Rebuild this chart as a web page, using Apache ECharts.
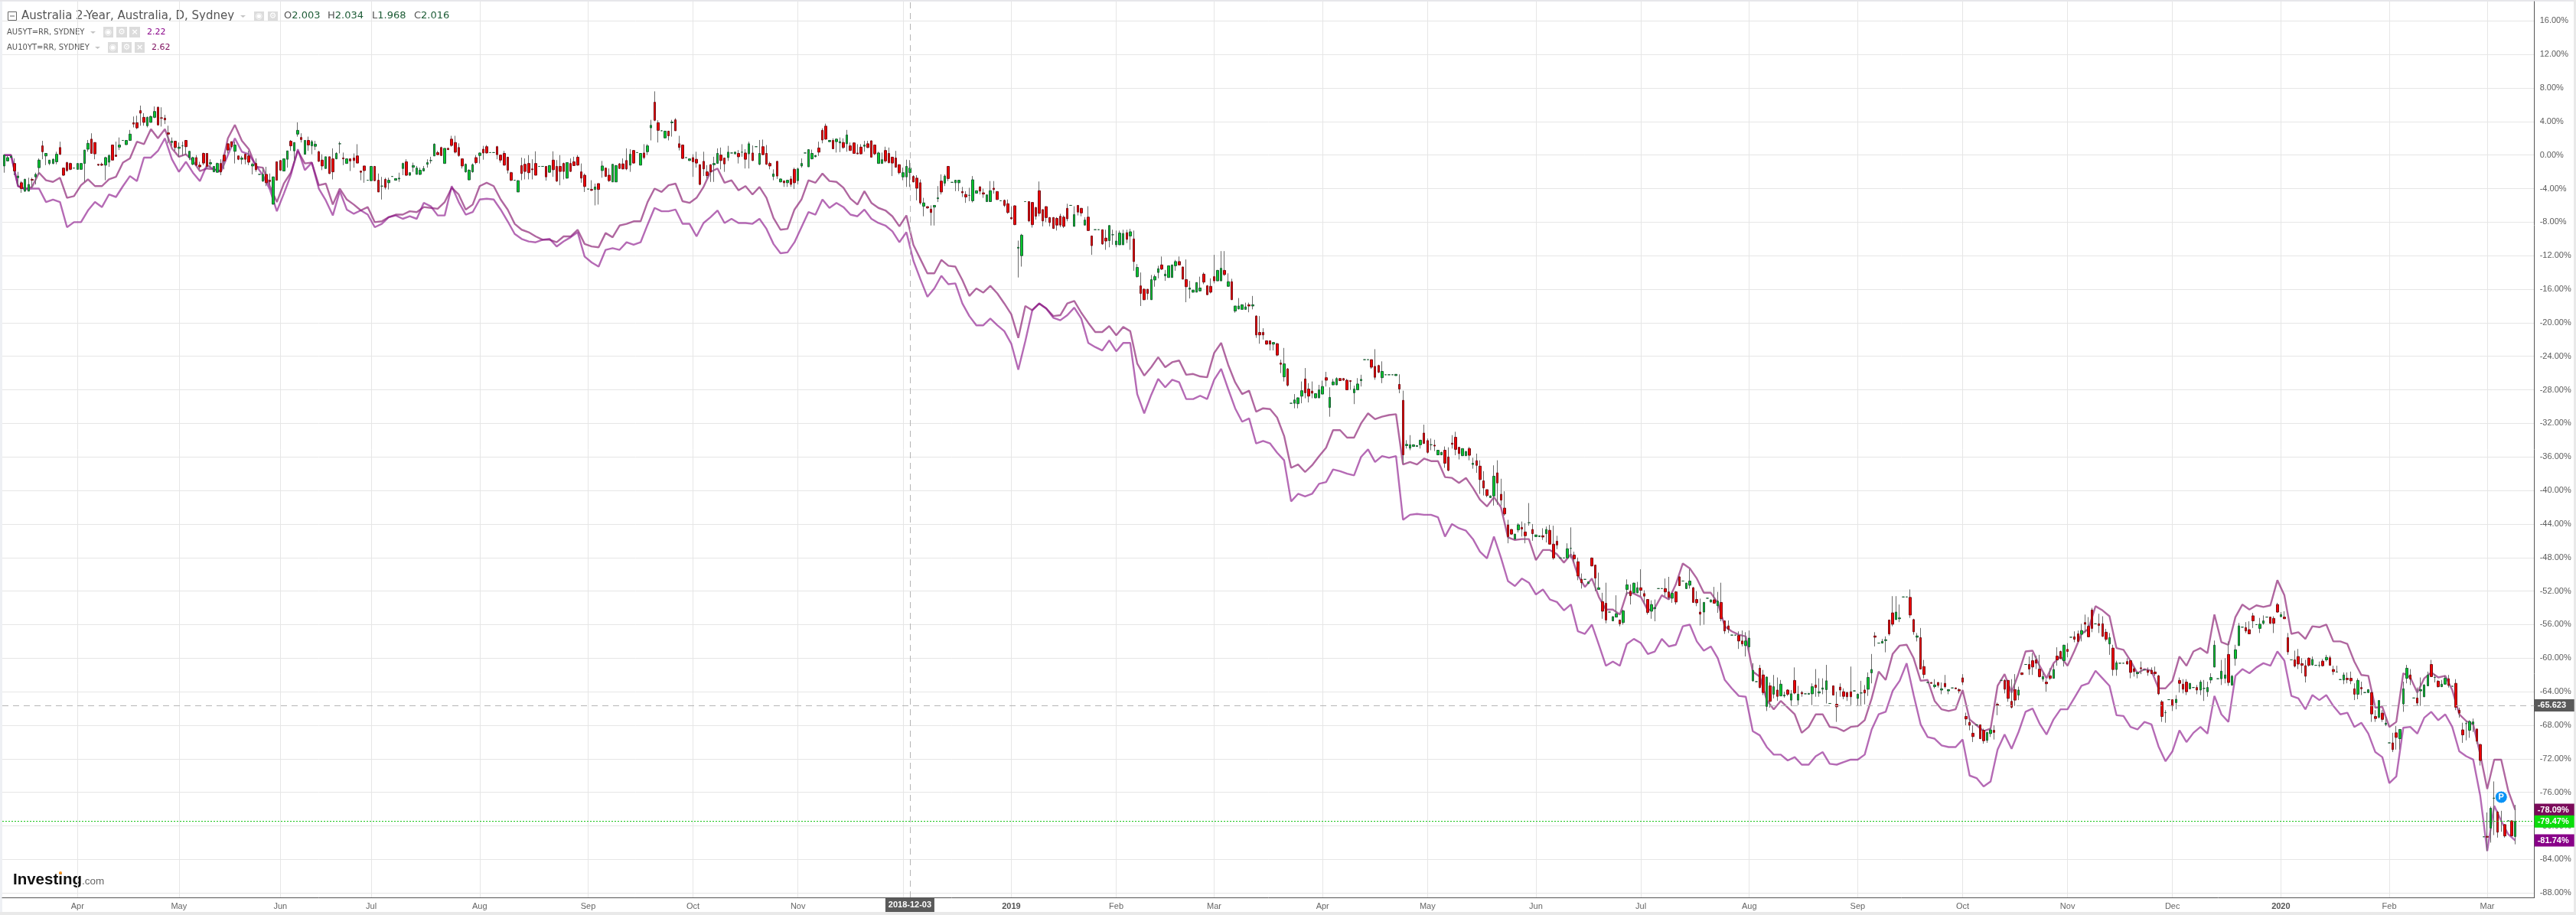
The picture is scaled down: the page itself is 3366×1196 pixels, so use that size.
<!DOCTYPE html>
<html>
<head>
<meta charset="utf-8">
<title>Australia 2-Year</title>
<style>
  html, body { margin: 0; padding: 0; background: #fff; }
  #chart { width: 3366px; height: 1196px; }
</style>
<script src="https://cdn.jsdelivr.net/npm/echarts@6/dist/echarts.min.js"></script>
</head>
<body>
<div id="chart"></div>
<script>
// daily candles as % change: open, close, low, high
const ohlc = [
[-1.3,0,-2.1,0],[-.7,-.3,-.7,-.1],[-.3,-.15,-.3,0],[-1,-1.9,-2.4,-.4],[-2.7,-2.5,-3.6,-2],[-3.3,-4,-4.5,-3.1],[-4.3,-2.9,-4.4,-2.8],[-4.3,-3.5,-4.3,-2.7],[-2.9,-3,-3.9,-2.7],[-2.6,-2.3,-3.5,-2.1],
[-1.5,-.6,-2.3,-.4],[1.1,.4,-.5,1.7],[-.1,.2,-1.2,.2],[-1,-.6,-1.2,-.6],[-1,-.5,-1.1,-.4],[-.8,.1,-1.1,.4],[.9,.1,0,1.6],[-1.55,-2.4,-2.5,-1.5],[-.9,-1.85,-2,-.8],[-1,-1.7,-1.8,-.9],
[-1.55,-1.55,-1.55,-1.55],[-1.7,-1,-1.7,-1],[-1.7,-1,-1.7,-1],[-1,.6,-3.2,.6],[.7,1.4,.4,1.8],[1.9,.2,.2,2.6],[1.5,.15,-.5,1.5],[-1.1,-1.2,-1.3,-1.1],[-1.1,-1.2,-1.3,-.9],[-1.2,-.3,-3,-.2],
[-.85,-.05,-1.4,.1],[1.2,-.6,-.6,1.2],[0,-.15,-.2,1.6],[.95,1.2,.6,2.1],[1.75,1.75,1.75,1.75],[1.25,1.75,1.2,1.8],[1.75,2.5,1.7,3],[3.85,3.7,3.3,4.6],[3.85,3.25,3.1,4.7],[5.3,5,3.5,5.9],
[4.5,3.9,3.5,5],[3.5,4.5,3.3,4.6],[3.9,4.6,3.9,4.7],[4.5,5.2,4.4,5.8],[5.7,3.6,3.5,5.8],[4.45,4.4,3.4,5.7],[4.4,4.2,3.7,4.8],[2.65,2.5,1.4,3.5],[1.5,1.65,1.1,2.1],[1.65,.9,.5,1.7],
[.8,.95,-.2,1.5],[1.1,1.1,-.1,1.6],[1.75,1,0,1.8],[-.3,.45,-.6,.45],[-1.1,-.3,-1.2,-.2],[-.3,-1.2,-1.3,0],[-1.2,-1.4,-1.7,-.8],[.2,-.95,-1.2,.3],[.2,-1.35,-1.6,.2],[-1.05,-.9,-1.5,-.5],
[-2,-1.35,-2,-1.3],[-2.05,-1,-2.1,-.9],[-1,-2,-2.4,-.5],[0,-.7,-1.7,.1],[1.35,.6,.2,1.4],[1.6,1,.9,1.6],[.45,1.2,-1,1.6],[-.1,-.5,-.6,-.1],[-.5,-.35,-1.1,-.1],[.1,-.5,-1.1,.2],
[-.1,-.85,-1.2,.5],[-1.3,-1.1,-2.3,-.9],[-1,-1.75,-2,-.4],[-2.3,-2.3,-2.3,-2.3],[-3.1,-2.3,-3.2,-1.5],[-2.3,-3.3,-3.7,-1.4],[-3,-3.15,-3.6,-2.2],[-5.85,-2.6,-5.9,-2.6],[-.8,-3,-3,-.8],[-.65,-1.8,-1.9,-.6],
[-1.9,-.45,-1.9,-.45],[-.5,.5,-1.5,.5],[1.65,1.1,.5,1.8],[.5,1.5,-.8,1.5],[2.5,2.95,2.2,3.9],[2.1,1.85,1.5,2.6],[.1,1.75,.1,1.8],[1.75,1.2,.5,2.2],[1.1,1.6,.1,1.8],[1.05,1.3,.6,1.7],
[.4,-.75,-.8,.5],[-.6,-1.3,-1.8,.1],[-1.6,-.2,-1.6,-.2],[-.2,-2.2,-2.25,-.2],[-.45,-2,-2.9,.8],[-.45,.2,-.5,.35],[1.35,1.35,.2,1.6],[-.35,-.45,-1.2,.3],[-1,-.45,-1,-.4],[-.45,-.7,-1.9,-.4],
[-.35,-.65,-1.5,.2],[-.1,-.95,-.95,1.3],[-1.9,-2.05,-3,-1.9],[-1.3,-1.85,-3.3,-1.3],[-3,-3,-3,-3],[-3.05,-1.35,-3.1,-1.3],[-1.35,-3.05,-3.1,-1.3],[-3,-4.4,-4.4,-2.2],[-3.7,-3.7,-5.3,-2.6],[-2.9,-3.85,-4.1,-2.7],
[-3.3,-3,-4.1,-2.7],[-2.55,-2.55,-2.55,-2.55],[-3,-2.8,-3,-2.8],[-2.85,-2.75,-3.2,-2.1],[-1.6,-1,-2.4,-.9],[-.8,-2.4,-2.5,-.5],[-2.4,-2.1,-2.5,-2.1],[-1.45,-1.25,-2,-.9],[-2.3,-1.55,-2.3,-1.3],[-2.3,-1.8,-2.4,-1.5],
[-1.9,-1.6,-1.9,-1.3],[-1.1,-.9,-1.5,-.5],[-.65,-.65,-1,-.2],[-.1,1.3,-.1,1.4],[.3,.05,0,.5],[.9,-.05,-.1,1],[-1,.8,-1,.8],[.8,.65,.6,.9],[1.9,1.15,1,2.3],[1.5,.35,.2,2.3],
[.9,-.05,-.2,1.4],[-.45,-1.3,-1.6,-.4],[-2,-1.1,-2.1,-1],[-2.95,-1.8,-3,-1.7],[-2,-1.15,-2.1,-1],[-.3,-.9,-1.1,0],[-.05,.25,-1,.3],[.7,.25,-.55,1.1],[1,.25,.2,1.2],[.3,.3,.3,.3],
[.3,.3,.3,.3],[1,.05,-.5,1.1],[0,-.6,-.9,0],[.2,-1.2,-1.25,.5],[-.25,-1.8,-2.2,-.2],[-2.1,-3,-3.1,-2],[-3,-3,-3,-3],[-4.4,-3.05,-4.4,-3],[-1.25,-2.2,-3,-.3],[-1.1,-1.95,-2.9,-.4],
[-1,-2.1,-2.9,0],[-1.65,-1.75,-2.9,-.5],[-1,-2.4,-2.4,.45],[-1.35,-1.35,-1.35,-1.35],[-1.35,-1.35,-1.35,-1.35],[-1.35,-2.6,-3.05,-1.3],[-2.05,-1.25,-2.1,-1.2],[-.6,-1.75,-2.6,.45],[-1.35,-3.1,-3.2,-.6],[-1.35,-1.95,-3.6,0],
[-1,-1.95,-2.9,-.9],[-2.75,-.9,-2.8,-.9],[-1,-1.95,-2,-.4],[-.8,-1.25,-1.3,-.2],[-.25,-1.2,-1.25,0],[-2,-2.75,-3.3,-1],[-2.4,-3.75,-4.4,-2.2],[-4.05,-4.05,-4.05,-4.05],[-4.1,-4.2,-4.3,-3],[-4.1,-3.8,-6,-3.4],
[-3.4,-4.1,-5.9,-3.4],[-1.85,-1.3,-2.7,-.7],[-1.55,-2.55,-2.6,-1.5],[-2.4,-3.05,-3.2,-1.6],[-3.2,-1.1,-3.2,-1.1],[-3.2,-1.25,-3.2,-1.2],[-1.05,-1.6,-1.6,-.95],[-1.05,-1.65,-1.7,-.4],[-.65,-1.65,-1.8,.8],[-1.2,.1,-2,.7],
[.55,-.95,-1,.6],[.3,.3,.3,.3],[-1.2,.2,-1.2,.2],[.25,-.3,-.5,1.3],[.4,1.1,0,1.3],[3.25,3.55,1.75,4.2],[6.3,4.15,4.05,7.6],[3.85,2.95,1.5,4.15],[2.9,2.9,2.9,2.9],[2.05,2.85,2,2.9],
[2.85,2.3,1.75,2.9],[3.85,3.95,2.2,4.2],[4.2,2.9,2.9,4.4],[1.35,.9,.55,2.3],[1.2,-.4,-.45,1.2],[-.3,-.3,-.3,-.3],[-.65,-.45,-.7,-.4],[-.3,-.8,-2.6,.1],[-.5,-.95,-1.5,.4],[-1.15,-3.5,-3.6,-1.1],
[-.75,-1.65,-2.5,.4],[-2,-2.45,-2.8,-1.2],[-1.15,-2,-3.2,-1.1],[-1.15,-1,-3.2,-.2],[-1,.2,-1,.8],[0,-.65,-1.7,.9],[-.35,-1.05,-2,-.3],[-.3,.35,-.7,1.1],[.25,.25,.25,.25],[.15,.35,.1,.4],
[.2,-.2,-1,.6],[.35,.35,-.2,1.3],[.25,-.5,-1.6,.7],[.15,1.35,-1.6,1.6],[.25,-.65,-.7,1.15],[1,1,1,1],[-1.1,.2,-1.2,1.8],[1,.05,0,1.85],[.2,-1.1,-1.15,1.2],[-1,-1.3,-1.7,-.8],
[-2.55,-2.25,-3,-1.7],[-.75,-2.5,-2.85,-.7],[-3.2,-2.85,-3.25,-2.8],[-3.1,-3.3,-3.8,-3],[-3.3,-3,-3.8,-3],[-2.85,-3.5,-3.8,-2.5],[-1.7,-3.3,-4.05,-1.5],[-3.05,-1.65,-3.5,-1.5],[-1.3,-1,-1.5,-.4],[.25,.25,.25,.25],
[-1.4,.65,-1.4,.7],[-.45,.2,-.5,.65],[-.2,-.05,-.25,0],[.85,.35,-.1,1.6],[2.95,1.8,1.4,3.2],[3.45,1.9,1.85,3.75],[1.6,1.75,1.55,1.8],[1.75,.75,.7,2],[1.6,1.9,.3,2],[1.45,1.6,.35,2.1],
[1.5,.9,.75,2],[1.35,2.4,.4,3],[1.1,.55,.5,1.5],[1.45,.2,.15,1.5],[.25,.15,.1,1.3],[.95,.15,.1,1.3],[1.05,1.2,.4,1.7],[1.35,.9,.85,1.7],[1.7,-.25,-.3,1.75],[1.2,.15,0,1.25],
[-1,.25,-1,.4],[-1,-.55,-1,.3],[.55,-.7,-.9,1],[.2,-.9,-1,.9],[-.25,-.95,-2.5,-.2],[-.35,-1.45,-1.5,.5],[-1.15,-2.1,-2.3,-1.1],[-2.6,-2.1,-3,-1.5],[-2.6,-1.35,-3.8,-.55],[-2.1,-1.55,-3.8,-.6],
[-2.55,-3.2,-3.25,-2.4],[-2.75,-3.95,-5.4,-2.4],
// Dec 2018 on
[-3.3,-5.7,-5.9,-2.9],[-6.1,-5.7,-7.3,-5.1],[-6.15,-6.3,-6.4,-6.1],[-6.45,-6.85,-8.4,-6],[-6.2,-6,-8.4,-6],[-5.2,-5.1,-5.6,-3.7],[-3.1,-4.4,-4.7,-2.3],[-3.35,-2.5,-3.7,-2.3],[-1.35,-2.8,-3.1,-1.3],[-3.25,-3.25,-3.25,-3.25],
[-3.3,-3,-4.3,-3],[-3.3,-3,-4.3,-3],[-4.35,-4.5,-5,-3.8],[-4.7,-5,-5.7,-4.3],[-4.8,-4.8,-5.5,-3.9],[-5.45,-2.95,-5.65,-2.5],[-4.55,-4.25,-4.6,-4.2],[-3.8,-4.3,-4.7,-3.7],[-4.5,-4.65,-5.1,-4],[-5.55,-4.75,-5.6,-4.7],
[-5.55,-4.25,-5.55,-3.1],[-3.95,-4.1,-4.6,-3.1],[-4.35,-5.3,-5.35,-4.3],[-5.45,-5.45,-5.45,-5.45],[-5.4,-6,-6.2,-5.3],[-5.8,-6.85,-7,-5.3],[-7.45,-7.6,-7.7,-6.1],[-6.05,-8.3,-8.35,-6],[-11.1,-11,-14.6,-10.2],[-12,-9.55,-13.3,-9.4],
[-5.55,-5.55,-5.55,-5.55],[-5.55,-7.85,-8,-5.5],[-5.65,-8.3,-8.65,-5.6],[-6.25,-7.3,-7.7,-6.2],[-4.25,-6.95,-7.3,-3.15],[-6.5,-7.85,-8.5,-6.5],[-6.15,-7.45,-8,-6.1],[-7.45,-8.05,-8.5,-7.4],[-7.45,-8.75,-8.8,-7.4],[-7.55,-8.35,-9,-7.4],
[-7.3,-8.35,-8.6,-7],[-7.4,-8.5,-8.7,-7.2],[-6.35,-7.6,-7.9,-5.8],[-6,-6,-6,-6],[-8.5,-7.1,-8.5,-6.1],[-6,-6.8,-7.2,-6],[-6.35,-6.9,-7.3,-6.3],[-8.35,-7.75,-8.4,-7.4],[-7.4,-9,-9,-6.1],[-9.65,-10.8,-11.9,-9.6],
[-8.9,-8.9,-8.9,-8.9],[-8.9,-8.9,-8.9,-8.9],[-8.9,-10.6,-10.7,-8.9],[-9.9,-10.25,-11.3,-8.9],[-10.2,-8.4,-11,-8.4],[-9.5,-9.5,-10.7,-8.9],[-10.7,-10.25,-11,-9],[-10.7,-9.3,-10.7,-9],[-10.7,-9.35,-10.7,-8.9],[-9.25,-10.05,-10.5,-8.9],
[-9.65,-9.15,-11.3,-8.8],[-10,-12.7,-13.8,-9],[-14.5,-13.4,-14.6,-13],[-15.6,-16.5,-18,-14],[-16,-17.25,-17.3,-15.9],[-16,-16.5,-17.25,-16],[-17.25,-14.85,-17.25,-14.3],[-14.9,-14.5,-15.7,-14.25],[-14,-13.55,-14.7,-13.2],[-13.1,-13.6,-13.7,-12.1],
[-14.4,-14.2,-15,-13.7],[-14.6,-13.2,-14.6,-13.2],[-14.6,-13.1,-14.6,-13.1],[-13.2,-12.7,-13.8,-12.5],[-12.7,-13.1,-13.15,-12.1],[-13.35,-14.8,-14.8,-13.3],[-14.85,-15.7,-17.55,-12.45],[-16,-15.85,-17.1,-15],[-16.35,-16.1,-16.4,-16.1],[-16.35,-15.2,-16.35,-15.2],
[-16.2,-15.85,-16.25,-14.5],[-14.2,-15.15,-15.4,-14],[-15.6,-16.65,-16.7,-15.5],[-15.65,-16.35,-16.5,-14.7],[-14.5,-15,-15.3,-11.9],[-15,-13.75,-15,-13.7],[-15,-13.5,-15,-11.45],[-13.75,-14.25,-14.4,-11.45],[-15.65,-15.1,-15.7,-14.1],[-15.1,-17.25,-17.25,-14.75],
[-18.6,-18,-18.8,-18],[-18.35,-18,-18.4,-17.05],[-18.4,-17.85,-18.4,-17.8],[-18.4,-18.1,-18.4,-17.6],[-17.85,-18,-18.75,-17.6],[-18,-17.85,-18.4,-16.8],[-19.2,-21.45,-21.8,-19.1],[-21.15,-21.45,-22.5,-19.2],[-21.15,-21.45,-22,-20.65],[-22.15,-22.55,-22.6,-22.1],
[-22.15,-22.55,-23.3,-22.1],[-22.55,-22.35,-23.3,-22.3],[-22.5,-23.85,-24,-22.4],[-24.8,-24.95,-26,-24.4],[-26.45,-24.9,-27,-23],[-25.5,-27.45,-27.6,-25.4],[-29.6,-29.6,-29.6,-29.6],[-29.6,-29.2,-30.2,-28.5],[-29.65,-28.95,-30.2,-28.9],[-28.75,-28.1,-29.6,-27],
[-26.7,-28.35,-29,-25.4],[-27.9,-28.75,-29.5,-27.2],[-28.15,-28.4,-29,-27],[-28.95,-28.45,-29,-28.4],[-28.95,-28,-29,-27.4],[-28.5,-27.6,-28.5,-26.9],[-26.55,-26.85,-27.6,-25.85],[-30.1,-28.9,-31.2,-27.7],[-27.4,-27.05,-27.45,-26.7],[-27.4,-26.65,-27.45,-26.5],
[-26.65,-26.9,-26.95,-26.6],[-26.65,-26.85,-26.9,-26.6],[-26.85,-28,-28,-26.7],[-26.9,-27,-28,-26.9],[-28.35,-27.9,-29.7,-27.5],[-28,-27.3,-28,-26.6],[-26.9,-26.75,-27.6,-26.2],[-24.4,-24.4,-24.4,-24.4],[-24.4,-24.4,-24.4,-24.4],[-24.4,-25.3,-25.5,-24.4],
[-25.2,-26.5,-26.8,-23.15],[-25.1,-25.9,-26,-25],
// May 2019 on
[-26.55,-25.8,-27.2,-24.6],[-26.2,-26.2,-26.2,-26.2],[-26.2,-26.2,-26.2,-26.2],[-26.2,-26.2,-26.2,-26.2],[-26.3,-26.15,-26.3,-26.15],[-27.35,-27.9,-28.4,-26.15],[-29.25,-35.75,-36.8,-28.1],[-34.65,-34.5,-35,-34],[-34.95,-34.55,-35.2,-33.4],[-34.75,-34.55,-34.8,-34.5],
[-34.75,-34.65,-34.8,-34.6],[-34.55,-34,-35,-34],[-33.15,-34.4,-34.4,-32.15],[-34.05,-35.45,-35.6,-33.8],[-34.55,-34.55,-35.2,-33.8],[-34.6,-34.7,-35.3,-33.95],[-35.75,-35.2,-35.8,-35.2],[-35.75,-35.45,-35.8,-35.4],[-35.2,-36.75,-37.3,-34.75],[-36,-37.6,-37.7,-34.85],
[-34.35,-34.5,-35,-33.4],[-33.65,-35.1,-35.8,-33],[-34.85,-35.6,-36.3,-34.8],[-35.85,-35,-35.9,-35],[-35.85,-35.35,-35.9,-35.3],[-35,-35.8,-36.4,-34.8],[-36.9,-36.75,-37.4,-36.1],[-36.45,-37,-37.9,-35.6],[-37.1,-38.7,-40.4,-36.4],[-38.85,-39.7,-40.6,-37.7],
[-39.9,-40.6,-40.8,-39.9],[-40.85,-40.65,-40.9,-40.6],[-40.65,-38.3,-41.8,-37],[-37.9,-39.1,-41.7,-36.4],[-40.45,-41.15,-41.8,-38.6],[-42.1,-42.8,-43,-40.1],[-44.1,-45.5,-46.3,-43.5],[-44.65,-45.2,-45.3,-44.6],[-45.8,-45.2,-45.85,-45.2],[-44.7,-44.1,-45,-43.9],
[-44.4,-44.6,-45.5,-43.7],[-44.95,-45.4,-46.3,-43.9],[-43.85,-43.85,-44.2,-41.5],[-44.65,-45.15,-46,-44],[-45.5,-45.3,-45.55,-45.3],[-45.5,-45.4,-45.55,-45.4],[-45.4,-45.55,-45.9,-44.5],[-45.15,-44.65,-46.2,-44.3],[-44.75,-46.4,-46.4,-44.1],[-46.4,-48.05,-48.25,-44.2],
[-46.05,-46.5,-47,-45.4],[-48.05,-48.05,-48.05,-48.05],[-48.05,-48.05,-48.05,-48.05],[-48.05,-46.95,-48.1,-46.3],[-46.9,-46.9,-48.1,-44.4],[-47.7,-48.15,-48.6,-47.3],[-48.5,-50.2,-50.7,-48],[-50.6,-51,-51.7,-49.9],[-50.6,-50.6,-50.6,-50.6],[-51.1,-50.9,-51.15,-50.85],
[-48.05,-49,-49.05,-48],[-48.9,-50.45,-52,-48.9],[-51.8,-51.6,-51.85,-49.8],[-53.25,-54.4,-55.3,-52.2],[-53.45,-55.45,-55.85,-51],[-54.5,-54.5,-54.5,-54.5],[-55.55,-55.05,-55.6,-55],[-55.1,-54.7,-55.1,-52.5],[-55.45,-55.9,-56.2,-55.4],[-55.75,-54.35,-56,-54.2],
[-51.8,-51.25,-52.5,-50.6],[-52,-52.55,-53.6,-51.2],[-52.2,-51.05,-52.2,-51],[-52.2,-51.6,-52.25,-50.9],[-51.6,-51.9,-52.6,-49.4],[-52.3,-52.6,-53.5,-51.9],[-53,-54.55,-54.8,-53],[-54.4,-53.6,-55.3,-53.1],[-54.1,-53.95,-55.6,-53],[-51.7,-51.7,-51.7,-51.7],
[-51.7,-51.7,-51.7,-51.7],[-51.7,-52.1,-52.6,-50.5],[-52.1,-52.75,-53,-50.3],[-52.85,-52.25,-53.4,-52.2],[-52.1,-53.3,-53.6,-52],[-50.3,-51.35,-51.4,-50.25],[-50.8,-50.8,-50.8,-50.8],[-51.7,-51.05,-51.75,-51],[-51.3,-50.8,-51.7,-49.4],[-51.6,-53.35,-53.4,-51.5],
[-53,-53.4,-53.8,-52],[-54.5,-54.75,-56.1,-52.9],[-54.5,-53.35,-56,-53.3],[-52.85,-52.85,-52.85,-52.85],[-53.3,-53.05,-53.35,-53],[-53.05,-53.45,-53.5,-51.5],[-53.75,-53.2,-54.6,-52.1],[-53.35,-55.3,-55.6,-51],[-55.55,-56.75,-57.1,-55.5],[-56.15,-56.55,-57,-55.5],
[-57.25,-57.25,-57.25,-57.25],[-57.25,-57.25,-57.25,-57.25],[-57.3,-57.95,-58.9,-56.8],[-57.95,-58.3,-58.6,-56.7],[-58.5,-57.95,-59.8,-56.9],[-58.65,-57.6,-59.2,-56.7],[-62.7,-61.45,-62.8,-60.6],[-62.8,-62.8,-62.8,-62.8],[-61.2,-63.5,-63.6,-60.8],
// Sep 2019 on
[-62,-64.1,-64.4,-61.4],[-65.75,-62.25,-66.3,-62.2],[-63.3,-65.15,-65.9,-62.9],[-64.3,-63.4,-64.8,-62],[-63.8,-64.55,-65.1,-62.3],[-64.5,-63.1,-64.5,-62.6],[-64.5,-64.4,-64.7,-64],[-63.8,-64.3,-64.5,-63.7],[-65,-64.25,-65.7,-63.8],[-62.65,-64.15,-64.3,-61.1],
[-65,-64.3,-65.6,-63.3],[-64.1,-64.25,-64.6,-63.9],[-64.25,-64.25,-64.25,-64.25],[-64.3,-64.2,-64.3,-64.2],[-64.25,-63.4,-65.6,-63],[-63.2,-63.5,-64.6,-61.3],[-64.15,-64,-64.6,-62.4],[-63.7,-63.55,-64.3,-62.4],[-63.75,-62.7,-65.4,-60.8],[-65.4,-65.4,-65.4,-65.4],
[-63.3,-64.4,-64.45,-63.25],[-65.5,-65.8,-67.6,-64],[-63.45,-63.8,-64.6,-63],[-64,-64.55,-64.9,-63.6],[-64.1,-64.6,-65.1,-64],[-64,-64.6,-65.6,-61],[-63.9,-63.9,-63.9,-63.9],[-64.8,-64.3,-65.7,-64.2],[-64.15,-64.15,-65.6,-62.7],[-63.8,-64.15,-65.5,-63.2],
[-63.7,-62.3,-64.5,-61.7],[-61.75,-61.35,-63,-59.5],[-57.35,-57.5,-58.6,-56.9],[-58.2,-58.2,-58.2,-58.2],[-58.2,-58,-58.25,-57.7],[-57.9,-57.8,-59.3,-57.4],[-55.45,-57.1,-57.3,-55.4],[-54.6,-55.95,-56.2,-52.6],[-55.4,-54.5,-55.4,-52.6],[-55.3,-55.2,-55.7,-53.6],
[-52.7,-52.7,-52.7,-52.7],[-52.7,-52.7,-52.7,-52.7],[-52.75,-54.85,-55.2,-51.8],[-55.4,-56.85,-57.2,-55.3],[-57.5,-57.35,-58,-57],[-57.55,-61.3,-61.3,-56.4],[-61,-61.95,-62.4,-60.2],[-62.9,-62.9,-62.9,-62.9],[-62.9,-63,-63.05,-62.85],[-63.4,-63.2,-63.6,-62.5],
[-62.9,-63.25,-63.5,-62.85],[-63.8,-63.65,-64.3,-62.9],[-63,-63.4,-63.6,-62],[-63.9,-63.75,-64.3,-63.7],[-63.55,-63.55,-63.55,-63.55],[-63.55,-63.65,-63.7,-63.5],[-63.75,-63.9,-64.2,-63.6],[-62.35,-62.85,-63.2,-61.9],[-66.95,-67.25,-68,-66.5],[-67.65,-68,-68.6,-67.2],
[-68.95,-69.35,-70,-68],[-67.95,-67.95,-67.95,-67.95],[-67.95,-69.6,-69.65,-67.9],[-68.6,-69.85,-70.2,-68.4],[-69.8,-68.85,-70.1,-68.8],[-69,-68.55,-69.4,-68.3],[-68.6,-68.85,-69.7,-68],[-65.5,-65.6,-66.8,-65.3],[-62.65,-62.65,-62.65,-62.65],[-62.65,-63.7,-64.2,-62.5],
[-62.65,-64.8,-65.2,-62.6],[-65.15,-65.85,-66,-62.5],[-63.75,-65,-65.7,-61.9],[-64.4,-63.8,-65,-63.4],[-61.75,-61.95,-62,-61.7],[-60.75,-60.75,-60.75,-60.75],[-60.75,-61.3,-62,-59.8],[-60.3,-61.05,-62,-59.4],[-60.2,-60.6,-61.3,-59.7],[-61.3,-62.2,-62.3,-59.6],
[-62.5,-62.2,-62.8,-61.7],[-62.85,-63.05,-64,-62.5],[-62.1,-62.4,-62.6,-61.2],[-62.4,-61.35,-62.4,-60.7],[-59.75,-60.2,-60.9,-58.7],[-59.2,-60.05,-60.1,-59.1],[-60.3,-58.45,-61,-58.4],[-58.95,-59.2,-59.9,-58.2],[-57.5,-57.5,-57.5,-57.5],[-57.45,-57.75,-58.1,-56.8],
[-57.1,-58,-58.1,-56.7],[-57.15,-56.7,-58,-55.9],[-55.75,-55.95,-57,-54.8],[-56.2,-57.45,-57.5,-55.1],[-54.25,-56.45,-56.9,-54],[-55.9,-55.9,-55.9,-55.9],[-55.9,-56.1,-57,-54.7],[-55.9,-57.4,-57.45,-55],[-56.9,-57.75,-58,-56.5],[-58.3,-57.55,-59.6,-57],
[-58.8,-61.35,-62.1,-58.4],[-61.35,-60.55,-62.1,-60.3],[-60.6,-60.6,-60.6,-60.6],[-60.6,-60.6,-60.6,-60.6],[-60.4,-60.7,-60.75,-60],[-60.3,-61.7,-62.4,-60.25],[-61.25,-61.6,-62.2,-61],[-61.85,-61.7,-62.4,-61.6],[-61.15,-61.25,-61.9,-60.4],
// Nov 2019 on
[-61.4,-61.4,-61.4,-61.4],[-61.45,-61.7,-62.1,-61.1],[-61.45,-61.85,-61.9,-61.1],[-61.65,-61.85,-62.1,-61],[-62.1,-64.25,-64.4,-62],[-65.2,-66.95,-67.6,-65],[-66.5,-66.5,-67.7,-66.2],[-64.95,-64.95,-64.95,-64.95],[-64.95,-65.7,-66.3,-64.9],[-65.3,-64.9,-66.1,-64.4],
[-62.65,-63,-64.1,-62.3],[-63.1,-63.7,-64.2,-62.5],[-62.85,-64,-64.4,-62.5],[-63.65,-63,-63.7,-63],[-63.5,-63.5,-63.5,-63.5],[-63.5,-63.8,-64.3,-63.2],[-63.8,-62.85,-64.4,-62.6],[-63.6,-63.6,-65.1,-62.6],[-64,-63.5,-64.6,-62.8],[-62.6,-62.3,-63,-61.8],
[-61.05,-58.45,-61.1,-57.9],[-62.45,-62.45,-62.45,-62.45],[-62.45,-61.55,-63.2,-60.2],[-62.4,-62,-63,-60],[-59.55,-62.9,-63.3,-58],[-63.2,-62.15,-63.3,-62],[-60.05,-59,-60.9,-58.4],[-58.5,-56.15,-58.5,-55.8],[-56.3,-56.3,-56.3,-56.3],[-56.35,-56.75,-57,-55.7],
[-56.6,-57.1,-57.1,-55.6],[-54.95,-55.55,-56.4,-54.6],[-56,-56,-56,-56],[-56.45,-55.95,-57,-55.2],[-55.85,-55.55,-56,-54.9],[-55.1,-55.1,-55.1,-55.1],[-55.1,-55.85,-55.9,-55.05],[-55.25,-55.85,-57,-55],[-53.6,-54.5,-54.6,-53.4],[-55.05,-54.8,-55.1,-54.5],
[-55.1,-55.3,-55.3,-54.4],[-57.55,-59.25,-59.6,-57],[-60.2,-60.2,-60.2,-60.2],[-60.2,-60.95,-61.1,-59.1],[-59.8,-60.7,-61.3,-58.9],[-60.65,-60.85,-61.8,-60],[-60.9,-62.15,-62.9,-60.2],[-60,-60.85,-61,-59.9],[-60.8,-60.15,-60.9,-59.8],[-60.85,-60.85,-60.85,-60.85],
[-60.85,-60.85,-61.1,-60.4],[-60.35,-60.9,-61,-60.1],[-60.2,-59.9,-60.4,-59.6],[-59.95,-60.85,-60.9,-59.7],[-61.35,-61.6,-62,-60.9],[-61.65,-61.65,-61.65,-60.9],[-62.55,-62.55,-62.55,-62.55],[-62.6,-62,-63.1,-61.7],[-62.4,-62.55,-63,-61.7],[-62.4,-62.7,-63.1,-61.6],
[-63.65,-64.3,-65,-63],[-64.3,-62.65,-64.9,-62.4],[-63.5,-63.65,-64.4,-62.8],[-64.1,-64.1,-64.1,-64.1],[-64.1,-63.75,-64.15,-63.7],[-64.1,-66.65,-67.6,-64],[-66.95,-67.2,-67.6,-66.2],[-67.05,-65.05,-67.2,-65],[-66.55,-67.3,-67.6,-66.2],[-67.9,-67.75,-68.1,-67],
[-70.1,-70.1,-70.1,-70.1],[-70.1,-70.9,-71.2,-68.9],[-68.9,-69.45,-70.9,-68.1],[-69.6,-68.5,-70.9,-68.45],[-65.45,-63.65,-66.4,-62.8],[-62.4,-61.2,-63,-60.8],[-62,-62.5,-63.2,-61.3],[-64.75,-64.75,-64.75,-64.75],[-64.75,-65.35,-65.7,-63.5],[-63.9,-63.75,-65.7,-62.3],
[-64.6,-63.2,-64.65,-63.1],[-63.3,-62,-63.3,-61.6],[-60.75,-62.2,-62.25,-60.2],[-62.3,-62.3,-62.9,-61.9],[-62.75,-63.4,-63.5,-62.6],[-63.4,-63.1,-63.45,-62.6],[-63.1,-62.4,-63.15,-62.1],[-62.45,-63.25,-63.5,-62],[-63.35,-63.35,-63.35,-63.35],[-63,-65.85,-66.2,-62.5],
[-66.2,-66.55,-67.1,-65.9],[-68.55,-69.15,-70.1,-67.7],[-67.8,-67.8,-69.8,-67.5],[-68.6,-67.55,-69.5,-67.4],[-67.85,-67.6,-68.8,-67.2],[-68.45,-69.9,-70.2,-68.4],[-70.3,-72.2,-72.8,-70.2],[-81.3,-81.3,-81.3,-81.3],[-81.25,-81.35,-83,-78.4],[-80.25,-77.9,-82,-77.7],
[-76.7,-76.7,-81.1,-74.7],[-78.35,-80.75,-81.4,-78.2],[-79.45,-79.45,-80.7,-78.2],[-79.85,-81.2,-81.4,-79.8],[-79.4,-79.4,-79.4,-79.4],[-79.4,-81.2,-81.25,-79.35],[-81.27,-79.47,-82.2,-77.5]
]

// line values, one reading every lineStep bars
const lineStep = 2
const au10yt = [
0,0,-3.7,-4,-3.8,-2.1,-3,-3.2,-2.7,-5.1,-4.9,-3.6,-2.9,-3.7,-3.7,-2.9,-2.6,-.9,-.4,1.6,1.3,3.1,2,3.1,.8,-.2,.1,-.7,-1.9,-1.6,-1.7,-1.9,2,3.6,1.7,.7,-1.4,-1.5,-3.7,-5.6,-3.4,-2.1,.5,-1,-.9,-3.6,-3.4,-5.9,-4,-5.3,-5.9,-6.6,-6.2,-8,-7.9,-7.4,-7.1,-7.1,-6.7,-6.8,-6.2,-6.3,-6.4,-5.6,-3.9,-4.7,
-6.5,-5.9,-3.7,-3.3,-3.7,-5.3,-6.5,-8.2,-8.9,-9.2,-9.7,-10.1,-10.1,-10.4,-9.7,-9.7,-8.9,-10.6,-10.9,-11,-9.3,-9.8,-8.4,-8.2,-7.9,-7.9,-5.6,-4,-4.4,-3.6,-3.4,-5.5,-5.7,-5.1,-3.8,-2,-1.6,-3.3,-3,-4.2,-3.7,-4.7,-3.8,-5.1,-7.5,-8.9,-8.8,-6.5,-5.3,-3,-3.3,-2.2,-3.1,-3.2,-3.9,-5.2,-5.9,-4.3,-5.7,-6.3,-6.6,-7.3,-8.5,-7.2,-10.7,
-12.4,-14.1,-14.1,-12.5,-13.2,-13.3,-14.9,-16.8,-15.9,-16.4,-15.6,-16.5,-17.7,-19,-21.8,-18,-18.5,-17.7,-18.3,-19.2,-19.1,-17.7,-17.4,-18.8,-20,-21.1,-21.1,-20.4,-21.5,-20.5,-21,-24.85,-26.3,-25.3,-24.1,-25.3,-24.7,-24.5,-26.2,-26.1,-26.4,-26.5,-23.6,-22.4,-25,-27.1,-28.5,-28.1,
-30.6,-30.2,-30.3,-31.3,-33.5,-37.3,-36.9,-37.8,-37,-35.9,-34.9,-32.8,-32.8,-33.7,-33.7,-32,-30.8,-31.5,-31.2,-31,
-30.9,-36.9,-36.6,-36.9,-36.2,-36.5,-36.5,-38.4,-38.5,-39.1,-38.5,-39.7,-41.1,-41.9,-40.8,-42,-45.6,-45.9,-45.8,-45.8,-48.3,-47.1,-47.1,-47.6,-48.6,-47.6,-50.1,-51.5,-50.5,-52.7,-54.2,-54.2,-54.8,-52.2,-52.3,-52.7,-54.3,-54,-52.5,-53,-51.2,-48.7,-49.3,-50.5,-52.2,-52.2,-53.4,-56.2,-56.8,-57.2,-57.4,-61.6,-62.2,
-65,-66.1,-65.1,-65.9,-66.7,-68.9,-68.2,-66.7,-66.7,-68.2,-68.3,-68.7,-68.2,-68.1,-67.4,-64.8,-61.6,-62.6,-59.5,-58.5,-58.4,-60,-62.7,-62.6,-65.1,-66.1,-66.3,-66.1,-63.8,-67.3,-68,-68.7,-68.4,-63.3,-61.9,-64.1,-61.8,-59.2,-59.1,-60.9,-62.4,-60.6,-59.8,-60.9,-59.1,-57.1,-56.5,-53.8,-54.3,-55,-58.8,-59,-60.3,-61.8,
-61.3,-61.5,-63.6,-63.6,-62.7,-59.8,-60.9,-59.2,-58.8,-59.4,-54.8,-58.1,-58.4,-55.1,-53.6,-54.2,-53.7,-53.9,-53.7,-50.7,-52.5,-57.1,-56.9,-57.7,-56.2,-56.3,-56,-58,-58,-58.3,-60.4,-62,-62.1,-65.9,-65.8,-68.2,-67.6,-61.8,-62.3,-64.1,-62.4,-61.7,-62.3,-62.1,-63.8,-66.7,-67.5,-67.9,-71.5,-75.6,-72.1,-72.1,-75.8,-78.09
]
const au5yt = [
0,0,-3.7,-4.1,-4,-4,-5.6,-5.3,-5.6,-8.6,-8,-8,-6.6,-5.6,-6.2,-4.7,-5,-3.7,-2.5,-3.1,-.3,-.3,.5,2,-.5,-2,-.8,-2.1,-3.1,-1.2,-1.7,-2,0,2,.4,.1,-1.2,-2.4,-4.1,-6.7,-4.6,-2.4,.7,-1.8,-.9,-4,-5.4,-7.2,-4.3,-6.5,-7,-6.6,-7.1,-8.6,-8.2,-7.4,-7.2,-7.6,-7.3,-7.6,-5.7,-6.1,-7.2,-7.2,-3.7,-5.6,
-7.1,-6.8,-5.3,-5.2,-5.3,-6.5,-7.9,-9.4,-10,-10.3,-10.4,-10.1,-10,-10.9,-10.3,-9.8,-9.2,-12.1,-12.8,-13.3,-11.3,-11.1,-11.3,-10.4,-10.7,-10.4,-8.3,-6.3,-6.7,-6.7,-6.5,-8.2,-8.2,-9.7,-8.1,-7.4,-6.6,-8.1,-7.6,-8.1,-8.1,-8.2,-7.6,-8.8,-10.6,-11.7,-11.6,-10.4,-8.6,-6.8,-7.1,-5.3,-6.3,-5.7,-6.2,-7.1,-7.3,-6.5,-7.6,-8.1,-8.4,-9.1,-10.4,-9.2,-12.6,
-14.8,-16.9,-15.9,-14.4,-15.4,-15.3,-17.7,-19.2,-20.3,-20.3,-19.5,-20.3,-21,-22.5,-25.6,-22.2,-18.5,-17.7,-18.3,-19.4,-19.7,-19.1,-18.2,-19.5,-22.4,-22.9,-23.3,-22.1,-23.4,-22.4,-22.4,-28.5,-30.8,-28.6,-26.7,-27.7,-26.8,-27.1,-29.1,-29.1,-28.7,-29.1,-26.8,-25.5,-27.9,-30.2,-31.8,-31.4,
-34.4,-34.1,-34.4,-35.5,-36.4,-41.3,-40.4,-40.7,-40.4,-39.2,-39,-37.5,-37.7,-38,-38.2,-36,-35.1,-36.6,-35.9,-36.1,
-35.9,-43.5,-42.9,-42.8,-42.9,-42.9,-43.2,-45.5,-44,-44.5,-44.8,-45.8,-47.3,-48.1,-45.5,-48,-50.8,-51.4,-50.5,-51,-52.4,-51.8,-53,-53.3,-54.3,-53.6,-56.8,-57.1,-56,-58.4,-60.9,-60.4,-60.9,-58.3,-57.7,-58.2,-59.5,-59.2,-57.7,-58.6,-58.4,-56.2,-56,-58,-59.1,-58.6,-60,-62.6,-63.6,-64.5,-64.6,-68.7,-69.2,
-70.6,-71.5,-71.5,-72.2,-71.8,-72.7,-72.7,-71.7,-71.2,-72.6,-72.7,-72.4,-72.1,-72.1,-71.5,-68.5,-66.7,-66.4,-63.9,-62.7,-60.6,-64.4,-67.9,-69.4,-69.6,-70.4,-70.6,-70.6,-69.7,-74,-74.3,-75.3,-74.7,-70.9,-69.1,-70.8,-68.8,-66.4,-66,-67.8,-69.1,-67.3,-66.1,-66.1,-64.7,-63.3,-63,-61.5,-62.4,-63.3,-66.8,-66.9,-68.2,-68.5,
-67.6,-67.9,-70.5,-72.3,-71.1,-68.6,-70,-68.9,-68.2,-69,-64.5,-66.7,-67.6,-62.1,-61.3,-61.8,-61.1,-60.6,-60.9,-59.2,-60.3,-64.5,-64.8,-66.1,-64.4,-65,-64.4,-65.7,-66.7,-66.5,-68.2,-67.7,-69,-71.2,-71.8,-74.9,-74.1,-68.3,-68.2,-69,-67.1,-66.4,-67.4,-66.7,-68.2,-71.1,-71.7,-72.1,-76.4,-83,-77.6,-79.4,-81,-81.74
]

// axis ticks
const barSlots = 724
const monthBars = [21,50,79,105,136,167,197,227,257,288,318,346,377,407,438,468,499,530,560,590,620,651,682,710]
const monthLabels = ['Apr','May','Jun','Jul','Aug','Sep','Oct','Nov','Dec','2019','Feb','Mar','Apr','May','Jun','Jul','Aug','Sep','Oct','Nov','Dec','2020','Feb','Mar']
const yTicks = [16,12,8,4,0,-4,-8,-12,-16,-20,-24,-28,-32,-36,-40,-44,-48,-52,-56,-60,-64,-68,-72,-76,-80,-84,-88]

// crosshair and last values
const crossBar = 259
const crossDate = '2018-12-03'
const crossValue = -65.623
const lastCandle = -79.47
const last10yt = -78.09
const last5yt = -81.74
const pinBar = 714
const pinValue = -76.57

const chart = echarts.init(document.getElementById('chart'))
const font = '"Liberation Sans", Arial, sans-serif'
const headFont = '"DejaVu Sans", Verdana, sans-serif'
const isTick = (i) => monthBars.indexOf(i) >= 0

const tag = (value, text, bg) => ({
  yAxis: value,
  lineStyle: { color: 'rgba(0,0,0,0)' },
  label: { formatter: text, backgroundColor: bg }
})

const iconBox = (x, y, w, h, glyph) => ({
  type: 'group',
  x: x,
  y: y,
  children: [
    { type: 'rect', shape: { x: 0, y: 0, width: w, height: h }, style: { fill: '#dcdcdc' } },
    { type: 'text', style: { x: w / 2, y: h / 2, text: glyph, fill: '#fff', font: 'bold 11px ' + headFont, align: 'center', verticalAlign: 'middle' } }
  ]
})

const headText = (x, y, text, size, fill) => ({
  type: 'text',
  style: { x: x, y: y, text: text, fill: fill, font: size + 'px ' + headFont, verticalAlign: 'middle' }
})

const caret = (x, y) => ({
  type: 'polygon',
  shape: { points: [[x, y], [x + 7, y], [x + 3.5, y + 3]] },
  style: { fill: '#c4c4c4' }
})

const ohlcText = (x, k, v) => ({
  type: 'text',
  style: {
    x: x,
    y: 21,
    text: '{k|' + k + '}{v|' + v + '}',
    verticalAlign: 'middle',
    rich: {
      k: { fill: '#555', font: '13px ' + headFont },
      v: { fill: '#1d5c36', font: '13px ' + headFont }
    }
  }
})

const option = {
  animation: false,
  backgroundColor: '#fff',
  grid: { left: 3, top: 2, width: 3308.7, height: 1171 },
  xAxis: {
    type: 'category',
    data: Array.from({ length: barSlots }, (_, i) => i),
    axisLine: { onZero: false, lineStyle: { color: '#555', width: 1 } },
    axisTick: { alignWithLabel: true, length: 3, interval: isTick, lineStyle: { color: '#555' } },
    splitLine: { show: true, alignWithLabel: true, interval: isTick, lineStyle: { color: '#e6e6e6', width: 1 } },
    axisLabel: {
      interval: isTick,
      margin: 6,
      color: '#666',
      fontFamily: font,
      fontSize: 11,
      formatter: (v) => {
        const t = monthLabels[monthBars.indexOf(Number(v))] || ''
        return t.length === 4 ? '{y|' + t + '}' : t
      },
      rich: { y: { fontWeight: 'bold', color: '#555', fontFamily: font, fontSize: 11 } }
    }
  },
  yAxis: {
    type: 'value',
    position: 'right',
    min: -88.53,
    max: 18.312,
    axisLine: { show: true, lineStyle: { color: '#555', width: 1 } },
    axisTick: { show: false, customValues: yTicks },
    splitLine: { show: true, lineStyle: { color: '#e6e6e6', width: 1 } },
    axisLabel: {
      customValues: yTicks,
      margin: 7,
      color: '#5c5c5c',
      fontFamily: font,
      fontSize: 11,
      formatter: (v) => v.toFixed(2) + '%'
    }
  },
  series: [
    {
      name: 'AU10YT=RR',
      type: 'line',
      data: au10yt.map((v, k) => [k * lineStep, v]),
      showSymbol: false,
      z: 2,
      lineStyle: { color: '#800a66', width: 2.4, opacity: 0.62 }
    },
    {
      name: 'AU5YT=RR',
      type: 'line',
      data: au5yt.map((v, k) => [k * lineStep, v]),
      showSymbol: false,
      z: 2,
      lineStyle: { color: '#880e88', width: 2.4, opacity: 0.62 }
    },
    {
      // wicks only, gray
      type: 'candlestick',
      large: false,
      data: ohlc,
      barWidth: 1,
      z: 3,
      itemStyle: {
        color: '#6a6a6a', color0: '#6a6a6a',
        borderColor: '#6a6a6a', borderColor0: '#6a6a6a', borderColorDoji: '#6a6a6a',
        borderWidth: 1
      }
    },
    {
      // bodies on top of the wicks
      name: 'Australia 2-Year',
      type: 'candlestick',
      large: false,
      data: ohlc.map((d) => [d[0], d[1], Math.min(d[0], d[1]), Math.max(d[0], d[1])]),
      barWidth: 3,
      z: 4,
      itemStyle: {
        color: '#08c82c', color0: '#f00000',
        borderColor: '#1d5c36', borderColor0: '#7a1018', borderColorDoji: '#1d5c36',
        borderWidth: 1
      },
      markLine: {
        silent: true,
        symbol: 'none',
        animation: false,
        label: {
          position: 'end',
          distance: 0,
          width: 44,
          padding: [2, 4, 2, 4],
          color: '#fff',
          fontFamily: font,
          fontSize: 11,
          fontWeight: 'bold',
          lineHeight: 12
        },
        data: [
          {
            yAxis: crossValue,
            lineStyle: { color: '#b5b5b5', type: [8, 6], width: 1 },
            label: { formatter: crossValue.toFixed(3), backgroundColor: '#5a5a5a' }
          },
          {
            xAxis: crossBar,
            lineStyle: { color: '#b5b5b5', type: [8, 6], width: 1 },
            label: { position: 'start', width: 60, align: 'center', formatter: crossDate, backgroundColor: '#5a5a5a', padding: [3, 2, 3, 2], distance: 1 }
          },
          tag(last10yt, last10yt.toFixed(2) + '%', '#7b0a5a'),
          {
            yAxis: lastCandle,
            lineStyle: { color: '#19c419', type: [2, 2], width: 1 },
            label: { formatter: lastCandle.toFixed(2) + '%', backgroundColor: '#0bdc0b' }
          },
          tag(last5yt, last5yt.toFixed(2) + '%', '#880088')
        ]
      },
      markPoint: {
        silent: true,
        animation: false,
        symbol: 'circle',
        symbolSize: 16,
        itemStyle: { color: '#0a93f5', borderColor: '#fff', borderWidth: 1 },
        label: { formatter: 'P', color: '#fff', fontFamily: font, fontSize: 11, fontWeight: 'bold' },
        data: [{ coord: [pinBar, pinValue] }]
      }
    }
  ],
  graphic: [
    // frame strips
    { type: 'rect', silent: true, shape: { x: 0, y: 0, width: 3, height: 1196 }, style: { fill: '#eef0f4' } },
    { type: 'rect', silent: true, shape: { x: 0, y: 0, width: 3366, height: 2 }, style: { fill: '#e6e6ea' } },
    { type: 'rect', silent: true, shape: { x: 0, y: 1192, width: 3366, height: 4 }, style: { fill: '#e9e9e9' } },
    { type: 'rect', silent: true, shape: { x: 3363, y: 0, width: 3, height: 1196 }, style: { fill: '#e9e9e9' } },
    // header
    { type: 'rect', shape: { x: 10.5, y: 15.5, width: 11, height: 11 }, style: { fill: '#fff', stroke: '#666' } },
    { type: 'line', shape: { x1: 13, y1: 21, x2: 19, y2: 21 }, style: { stroke: '#666' } },
    headText(28, 21, 'Australia 2-Year, Australia, D, Sydney', 15, '#555'),
    caret(314, 20),
    iconBox(332, 15, 13, 12, '\u25C9'),
    iconBox(350, 15, 13, 12, '\u2699'),
    ohlcText(371, 'O', '2.003'),
    ohlcText(428, 'H', '2.034'),
    ohlcText(486, 'L', '1.968'),
    ohlcText(541, 'C', '2.016'),
    headText(9, 42, 'AU5YT=RR, SYDNEY', 10, '#555'),
    caret(118, 41),
    iconBox(135, 35, 13, 14, '\u25C9'),
    iconBox(152, 35, 14, 14, '\u2699'),
    iconBox(169, 35, 14, 14, '\u00D7'),
    headText(192, 42, '2.22', 11, '#880088'),
    headText(9, 62, 'AU10YT=RR, SYDNEY', 10, '#555'),
    caret(124, 61),
    iconBox(141, 55, 13, 14, '\u25C9'),
    iconBox(159, 55, 13, 14, '\u2699'),
    iconBox(176, 55, 13, 14, '\u00D7'),
    headText(198, 62, '2.62', 11, '#7b0a5a'),
    // logo
    {
      type: 'text',
      style: { x: 17, y: 1150, text: 'Investing', fill: '#111', font: 'bold 20.5px ' + font, verticalAlign: 'middle' }
    },
    {
      type: 'text',
      style: { x: 107, y: 1152, text: '.com', fill: '#666', font: '13.5px ' + font, verticalAlign: 'middle' }
    },
    { type: 'circle', shape: { cx: 79, cy: 1141, r: 2 }, style: { fill: '#f7931e' } }
  ]
}

chart.setOption(option)
</script>
</body>
</html>
